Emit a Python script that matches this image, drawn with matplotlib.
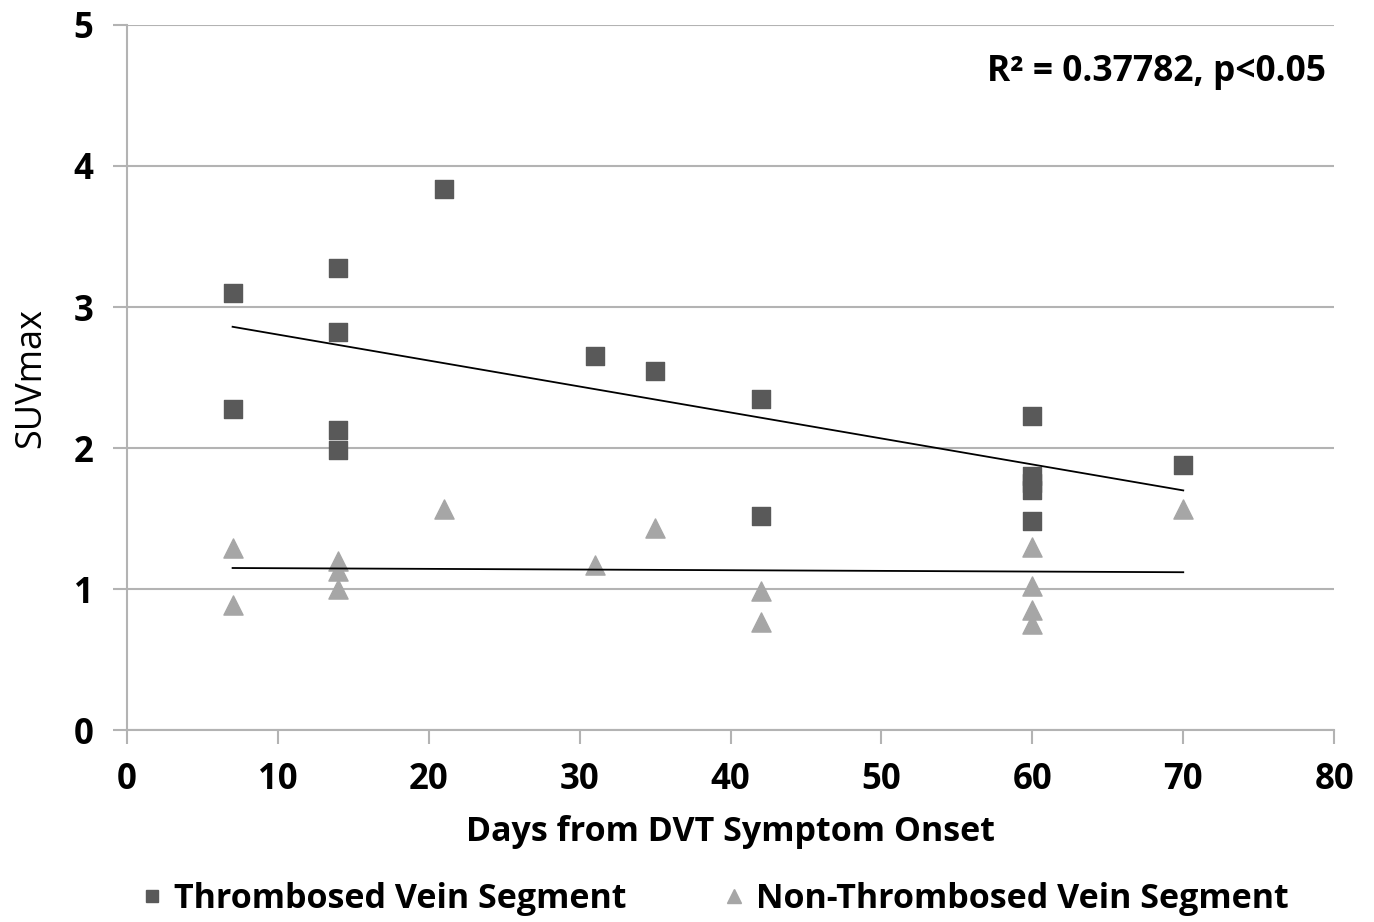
import matplotlib
matplotlib.use("Agg")
import matplotlib.pyplot as plt
from matplotlib.lines import Line2D

plt.rcParams['font.family'] = ['Open Sans', 'DejaVu Sans']

# Thrombosed vein segment (days, SUVmax)
thr_days = [7, 7, 14, 14, 14, 14, 21, 31, 35, 42, 42, 60, 60, 60, 60, 60, 70]
thr_suv = [3.10, 2.28, 3.28, 2.82, 2.13, 1.99, 3.84, 2.65, 2.55, 2.35, 1.52,
           2.23, 1.80, 1.75, 1.70, 1.48, 1.88]

# Non-thrombosed vein segment
non_days = [7, 7, 14, 14, 14, 21, 31, 35, 42, 42, 60, 60, 60, 60, 70]
non_suv = [1.29, 0.89, 1.20, 1.13, 1.00, 1.57, 1.17, 1.43, 0.99, 0.77,
           1.30, 1.02, 0.85, 0.75, 1.57]

# linear trend lines as drawn in the original
trend_x = [7, 70]
thr_trend = [2.86, 1.70]
non_trend = [1.15, 1.12]

dark = '#595959'
light = '#a6a6a6'
grid = '#b3b3b3'

fig = plt.figure(figsize=(13.74, 9.22), dpi=100)
ax = fig.add_axes([0.0924, 0.208, 0.8786, 0.765])

ax.scatter(thr_days, thr_suv, marker='s', s=150, color=dark, zorder=3)
ax.scatter(non_days, non_suv, marker='^', s=190, color=light, zorder=3)
ax.plot(trend_x, thr_trend, color='black', lw=1.3, zorder=4)
ax.plot(trend_x, non_trend, color='black', lw=1.3, zorder=4)

ax.set_xlim(0, 80)
ax.set_ylim(0, 5)
ax.set_xticks(range(0, 81, 10))
ax.set_yticks(range(0, 6))
ax.grid(axis='y', color=grid, lw=1.5)
ax.set_axisbelow(True)
for s in ['top', 'right']:
    ax.spines[s].set_visible(False)
ax.spines['left'].set_color(grid)
ax.spines['bottom'].set_color(grid)
ax.spines['left'].set_linewidth(1.5)
ax.spines['bottom'].set_linewidth(1.5)
ax.tick_params(axis='both', colors=grid, width=1.5, length=10, labelcolor='black',
               labelsize=25)
ax.tick_params(axis='x', pad=13)
ax.tick_params(axis='y', pad=14)
for lab in ax.get_xticklabels() + ax.get_yticklabels():
    lab.set_fontweight('bold')

ax.set_xlabel('Days from DVT Symptom Onset', fontsize=24.5, fontweight='bold', labelpad=12)
ax.set_ylabel('SUVmax', fontsize=26, fontweight='medium', labelpad=18)

ax.text(0.993, 0.933, 'R² = 0.37782, p<0.05', transform=ax.transAxes,
        ha='right', va='center', fontsize=25.5, fontweight='bold')

handles = [Line2D([], [], marker='s', ls='', color=dark, markersize=9),
           Line2D([], [], marker='^', ls='', color=light, markersize=10)]
fig.legend(handles, ['Thrombosed Vein Segment', 'Non-Thrombosed Vein Segment'],
           loc='center', bbox_to_anchor=(0.52, 0.025), ncol=2, frameon=False,
           prop={'size': 24.5, 'weight': 'bold'}, handletextpad=0.3, columnspacing=2.8,
           handlelength=0.7)

fig.savefig('out.png', dpi=100)
